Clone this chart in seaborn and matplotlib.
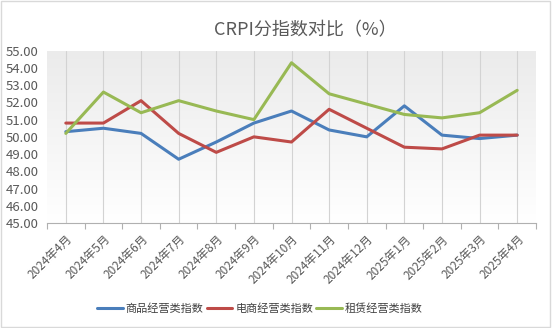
import numpy as np
import pandas as pd
import matplotlib
matplotlib.use("Agg")
import matplotlib.pyplot as plt
import seaborn as sns
from matplotlib.colors import LinearSegmentedColormap

months = ["2024年4月", "2024年5月", "2024年6月", "2024年7月", "2024年8月", "2024年9月",
          "2024年10月", "2024年11月", "2024年12月", "2025年1月", "2025年2月", "2025年3月", "2025年4月"]
goods = [50.3, 50.5, 50.2, 48.7, 49.7, 50.8, 51.5, 50.4, 50.0, 51.8, 50.1, 49.9, 50.1]
ecom = [50.8, 50.8, 52.1, 50.2, 49.1, 50.0, 49.7, 51.6, 50.5, 49.4, 49.3, 50.1, 50.1]
lease = [50.2, 52.6, 51.4, 52.1, 51.5, 51.0, 54.3, 52.5, 51.9, 51.3, 51.1, 51.4, 52.7]
series_names = ["商品经营类指数", "电商经营类指数", "租赁经营类指数"]
yticks = [45, 46, 47, 48, 49, 50, 51, 52, 53, 54, 55]
title = "CRPI分指数对比（%）"

sns.set_theme(style="white")
plt.rcParams['font.family'] = ['Noto Sans CJK SC', 'DejaVu Sans']

df = pd.DataFrame({
    "idx": list(range(len(months))) * 3,
    "value": goods + ecom + lease,
    "series": [series_names[0]] * len(months) + [series_names[1]] * len(months) + [series_names[2]] * len(months),
})

fig = plt.figure(figsize=(5.52, 3.28), dpi=100)
fig.patch.set_facecolor("white")
ax = fig.add_axes([47 / 552, 1 - 223 / 328, (536 - 47) / 552, (223 - 50.7) / 328])

n = len(months)
xmin, xmax = -0.5, n - 0.5
grad = np.linspace(0, 1, 256).reshape(-1, 1)
cmap = LinearSegmentedColormap.from_list("g", ["#ffffff", "#ebebeb"])
ax.imshow(grad, aspect="auto", cmap=cmap, extent=[xmin, xmax, 55, 45], origin="upper", zorder=0)

for i in range(n):
    ax.axvline(i, color="#d3d3d3", lw=0.8, zorder=1)

palette = ["#4a7ebb", "#be4b48", "#98b954"]
sns.lineplot(data=df, x="idx", y="value", hue="series", palette=palette, ax=ax,
             linewidth=2.2, legend=True, zorder=3)

ax.set_xlim(xmin, xmax)
ax.set_ylim(45, 55)
ax.set_yticks(yticks)
ax.set_yticklabels([f"{v:.2f}" for v in yticks], fontsize=9.5, color="#595959")
ax.set_xticks(range(n))
ax.set_xticklabels(months, rotation=45, ha="right", rotation_mode="anchor", fontsize=8.5, color="#595959")
ax.set_xticks(np.arange(-0.5, n, 1), minor=True)
ax.tick_params(axis="x", which="major", length=0, pad=7)
ax.tick_params(axis="x", which="minor", length=4, color="#b0b0b0", width=0.8, direction="out", bottom=True)
ax.tick_params(axis="y", length=0, pad=6)
ax.set_xlabel("")
ax.set_ylabel("")
for s in ["top", "right", "left"]:
    ax.spines[s].set_visible(False)
ax.spines["bottom"].set_color("#b0b0b0")
ax.spines["bottom"].set_linewidth(0.8)

handles, labels = ax.get_legend_handles_labels()
ax.legend(handles, labels, loc="center", bbox_to_anchor=(260 / 552, 1 - 309 / 328),
          bbox_transform=fig.transFigure, ncol=3, frameon=False, fontsize=8,
          handlelength=2.3, handletextpad=0.25, columnspacing=0.3, labelcolor="#404040")

fig.text(305 / 552, 1 - 30 / 328, title, ha="center", va="center", fontsize=13, color="#595959")

fig.add_artist(plt.Rectangle((0.002, 0.003), 0.994, 0.994, transform=fig.transFigure,
                             fill=False, edgecolor="#d9d9d9", lw=1))

fig.savefig("out.png", dpi=100)
